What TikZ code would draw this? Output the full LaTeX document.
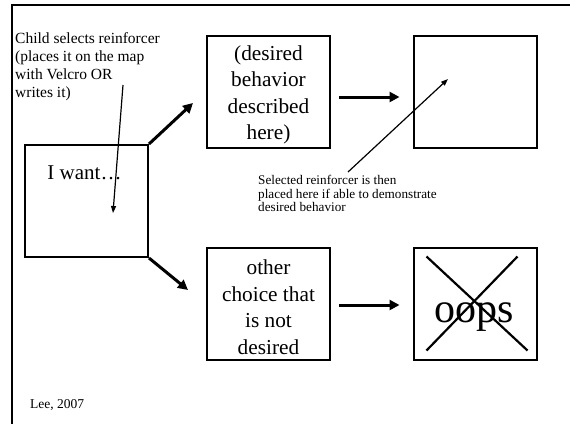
\documentclass[tikz,border=0pt]{standalone}
\usepackage{fontspec}
\setmainfont{Liberation Serif}
\usetikzlibrary{arrows.meta}
\begin{document}
\begin{tikzpicture}[x=1pt,y=-1pt,
  box/.style={draw,line width=2pt,minimum width=123pt,minimum height=112pt,inner sep=0pt},
  boxtext/.style={inner sep=0pt,align=center,font=\fontsize{21.3}{26.5}\selectfont},
  bigarrow/.style={line width=3pt,-{Triangle[length=10pt,width=10pt]}},
  thinarrow/.style={line width=1.2pt,-{Triangle[length=7pt,width=5pt]}},
  note/.style={align=left,inner sep=0pt,anchor=north west},
  crossline/.style={line width=2.2pt}]
\useasboundingbox (0,0) rectangle (570,424);
% frame edges
\draw[line width=1.6pt] (570,5) -- (12,5) -- (12,424);

% boxes
\node[box] (want) at (86.5,201) {};
\node[font=\fontsize{21}{25}\selectfont,inner sep=0pt] (wanttxt) at (84.5,173) {I want…};
\node[box] (desired) at (268.5,92) {};
\node[boxtext] (desiredtxt) at (268.5,95) {(desired\\behavior\\described\\here)};
\node[box] (reward) at (475,92) {};
\node[box] (other) at (268.5,303.5) {};
\node[boxtext] (othertxt) at (268.5,307) {other\\choice that\\is not\\desired};
\node[box] (oops) at (475,303.5) {};
\node[font=\fontsize{42}{46}\selectfont,inner sep=0pt,anchor=base] (oopstxt) at (474,322) {oops};

% cross over the "oops" box
\draw[crossline] ([shift={(14,10)}]oops.north west) -- ([shift={(-10,-10)}]oops.south east);
\draw[crossline] ([shift={(-20,10)}]oops.north east) -- ([shift={(14,-10)}]oops.south west);

% notes
\node[note,font=\fontsize{15.5}{18}\selectfont] (childnote) at (15,32)
  {Child selects reinforcer\\(places it on the map\\with Velcro OR\\writes it)};
\node[note,font=\fontsize{13.2}{13.5}\selectfont] (selnote) at (258,175)
  {Selected reinforcer is then\\placed here if able to demonstrate\\desired behavior};
\node[note,anchor=west,font=\fontsize{13.5}{16}\selectfont] (credit) at (30,405) {Lee, 2007};

% main arrows
\coordinate (upTip) at (193,103);
\coordinate (downTip) at (188,290);
\draw[bigarrow] (want.north east) -- (upTip);
\draw[bigarrow] (want.south east) -- (downTip);
\draw[bigarrow,shorten <=8pt,shorten >=13pt] ([yshift=-5pt]desired.east) -- ([yshift=-5pt]reward.west);
\draw[bigarrow,shorten <=8pt,shorten >=13pt] ([yshift=-1.5pt]other.east) -- ([yshift=-1.5pt]oops.west);

% callout arrows
\coordinate (childTail) at (123,85);
\coordinate (wantSpot) at (113,213);
\draw[thinarrow] (childTail) -- (wantSpot);
\coordinate (selTail) at (348,172);
\coordinate (rewardSpot) at (448,79);
\draw[thinarrow] (selTail) -- (rewardSpot);
\end{tikzpicture}
\end{document}
